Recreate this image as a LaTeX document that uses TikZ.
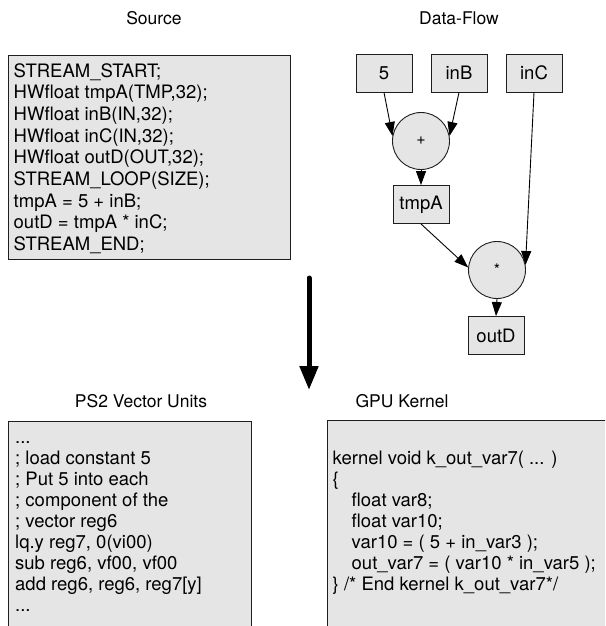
\documentclass[tikz,border=0pt]{standalone}
\usepackage{fontspec}
\setmainfont{TeX Gyre Heros}
\usetikzlibrary{arrows.meta}
\definecolor{panel}{RGB}{229,229,229}
\definecolor{edge}{RGB}{30,30,30}

\begin{document}
\begin{tikzpicture}[x=1pt,y=-1pt,
  every node/.style={font=\fontsize{18.5}{21.7}\selectfont},
  title/.style={anchor=center, inner sep=0pt, font=\fontsize{17.5}{20}\selectfont},
  panelbox/.style={draw=edge, line width=1pt, fill=panel, anchor=north west,
    inner sep=0pt},
  codetext/.style={anchor=north west, align=left, inner sep=0pt},
  lowcode/.style={codetext, font=\fontsize{18.5}{21}\selectfont},
  opbox/.style={draw=edge, line width=0.9pt, fill=panel, minimum width=56pt,
    minimum height=38pt, inner sep=0pt},
  opcircle/.style={circle, draw=edge, line width=0.9pt, fill=panel,
    minimum size=57pt, inner sep=0pt, font=\fontsize{16}{16}\selectfont},
  flow/.style={line width=0.9pt, -{Triangle[length=14pt,width=10pt]}},
  bigflow/.style={line width=5pt, line cap=round,
    -{Triangle[length=24pt,width=18pt]}}]

\useasboundingbox (0,0) rectangle (605,626);
\clip (0,0) rectangle (605,626);

% column headings
\node[title] (tsrc) at (154,18) {Source};
\node[title] (tdf)  at (459,18) {Data-Flow};
\node[title] (tps2) at (141,401) {PS2 Vector Units};
\node[title] (tgpu) at (402,401) {GPU Kernel};

% source listing
\node[panelbox, minimum width=282pt, minimum height=204pt] (srcbox) at (8,55) {};
\node[codetext] (srccode) at ([shift={(5.5,8)}]srcbox.north west) {%
\rule{0pt}{13.5pt}STREAM\_START;\\
HWfloat tmpA(TMP,32);\\
HWfloat inB(IN,32);\\
HWfloat inC(IN,32);\\
HWfloat outD(OUT,32);\\
STREAM\_LOOP(SIZE);\\
tmpA = 5 + inB;\\
outD = tmpA * inC;\\
STREAM\_END;};

% data-flow graph
\node[opbox] (c5)  at (384,73) {5};
\node[opbox] (inB) at (459,73) {inB};
\node[opbox] (inC) at (534,73) {inC};
\node[opcircle] (plus) at (421,141) {+};
\node[opbox] (tmpA) at (421,204.5) {tmpA};
\node[opcircle] (times) at (497,270) {*};
\node[opbox] (outD) at (496,335.5) {outD};

\draw[flow] (c5.south)  -- (plus.170);
\draw[flow] (inB.south) -- (plus.10);
\draw[flow] (plus.south) -- (tmpA.north);
\draw[flow] (tmpA.south) -- (times.175);
\draw[flow] (inC.south) -- (times.10);
\draw[flow] (times.south) -- (outD.north);

% translation arrow
\coordinate (bigtop) at (309,278);
\coordinate (bigtip) at (309,390);
\draw[bigflow] (bigtop) -- (bigtip);

% PS2 vector unit code
\node[panelbox, minimum width=243pt, minimum height=230pt] (ps2box) at (8,421) {};
\node[lowcode] (ps2code) at ([shift={(7,8.5)}]ps2box.north west) {%
\rule{0pt}{13.5pt}...\\
; load constant 5\\
; Put 5 into each\\
; component of the\\
; vector reg6\\
lq.y reg7, 0(vi00)\\
sub reg6, vf00, vf00\\
add reg6, reg6, reg7[y]\\
...};

% GPU kernel code
\node[panelbox, minimum width=300pt, minimum height=230pt] (gpubox) at (327,420) {};
\node[lowcode] (gpucode) at ([shift={(5.5,9.5)}]gpubox.north west) {%
\rule{0pt}{13.5pt}\\
kernel void k\_out\_var7( ... )\\
\{\\
\hspace*{19pt}float var8;\\
\hspace*{19pt}float var10;\\
\hspace*{19pt}var10 = ( 5 + in\_var3 );\\
\hspace*{19pt}out\_var7 = ( var10 * in\_var5 );\\
\} /* End kernel k\_out\_var7*/};
\end{tikzpicture}
\end{document}
